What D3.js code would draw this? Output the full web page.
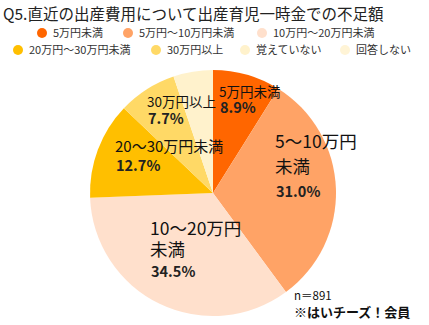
<!DOCTYPE html>
<html>
<head>
<meta charset="utf-8">
<script src="https://cdn.jsdelivr.net/npm/d3@7"></script>
<style>
  html, body { margin: 0; padding: 0; background: #fff; }
  svg { display: block; font-family: "Noto Sans CJK JP", "Noto Sans", sans-serif; }
</style>
</head>
<body>
<svg id="chart" width="429" height="325"></svg>
<script>
// Survey answers: shortfall vs. the childbirth lump-sum allowance
const categories = ["5万円未満", "5万円～10万円未満", "10万円～20万円未満", "20万円～30万円未満", "30万円以上", "覚えていない", "回答しない"];
const values = [8.9, 31.0, 34.5, 12.7, 7.7, 5.2, 0.0];
const colors = ["#FF6600", "#FFA366", "#FFE0CC", "#FFBF00", "#FFD966", "#FFF2CC", "#FFF4D6"];

const svg = d3.select("#chart");

// Title
svg.append("text")
  .attr("x", 3).attr("y", 20)
  .attr("font-size", 15.5)
  .attr("fill", "#222")
  .text("Q5.直近の出産費用について出産育児一時金での不足額");

// Legend (two rows)
const legendPos = [
  { x: 42, y: 33 }, { x: 128, y: 33 }, { x: 262, y: 33 },
  { x: 18, y: 50 }, { x: 156, y: 50 }, { x: 245, y: 50 }, { x: 345, y: 50 }
];
const legend = svg.append("g");
categories.forEach((c, i) => {
  const g = legend.append("g").attr("transform", `translate(${legendPos[i].x},${legendPos[i].y})`);
  g.append("circle").attr("r", 5).attr("fill", colors[i]);
  g.append("text").attr("x", 11).attr("y", 4).attr("font-size", 11).attr("fill", "#333").text(c);
});

// Pie
const cx = 213, cy = 193, R = 123;
const pie = d3.pie().sort(null).value(d => d);
const arc = d3.arc().innerRadius(0).outerRadius(R);
const arcs = pie(values);

const pg = svg.append("g").attr("transform", `translate(${cx},${cy})`);
pg.selectAll("path")
  .data(arcs)
  .join("path")
  .attr("d", arc)
  .attr("fill", (d, i) => colors[i]);

// Slice labels: one text block per slice, name lines then the percentage
const fmt = d3.format(".1f");
const labels = [
  { i: 0, x: 219, y: 97, lines: ["5万円未満"], size: 13.5, lh: 16 },
  { i: 1, x: 275, y: 148, lines: ["5～10万円", "未満"], size: 17.5, lh: 25, plh: 24 },
  { i: 2, x: 150, y: 235, lines: ["10～20万円", "未満"], size: 17.5, lh: 21, plh: 21 },
  { i: 3, x: 115, y: 152, lines: ["20～30万円未満"], size: 15, lh: 19 },
  { i: 4, x: 147, y: 107, lines: ["30万円以上"], size: 13.5, lh: 17 }
];
labels.forEach(l => {
  const t = svg.append("text").attr("x", l.x).attr("y", l.y).attr("fill", "#111");
  l.lines.forEach((s, k) => {
    t.append("tspan")
      .attr("x", l.x).attr("dy", k === 0 ? 0 : l.lh)
      .attr("font-size", l.size)
      .text(s);
  });
  t.append("tspan")
    .attr("x", l.x + 1).attr("dy", l.plh || l.lh)
    .attr("font-size", 14.5).attr("font-weight", "bold").attr("fill", "#222")
    .text(fmt(values[l.i]) + "%");
});

// Footnote
svg.append("text").attr("x", 294).attr("y", 300).attr("font-size", 11.5).attr("fill", "#111").text("n＝891");
svg.append("text").attr("x", 294).attr("y", 317).attr("font-size", 13).attr("font-weight", "bold").attr("fill", "#111").text("※はいチーズ！会員");
</script>
</body>
</html>
